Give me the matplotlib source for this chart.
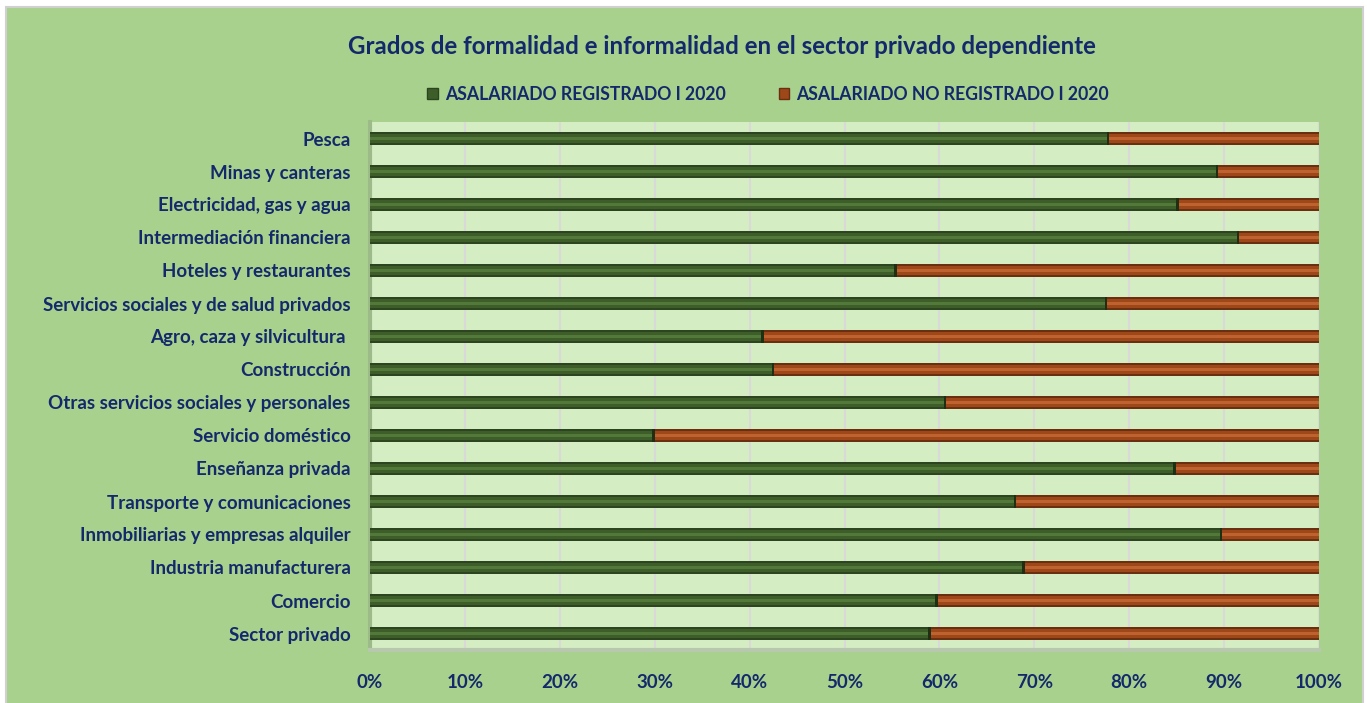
import matplotlib
matplotlib.use("Agg")
import matplotlib.pyplot as plt
from matplotlib.patches import Rectangle
from matplotlib.ticker import PercentFormatter

categories = [
    "Pesca",
    "Minas y canteras",
    "Electricidad, gas y agua",
    "Intermediación financiera",
    "Hoteles y restaurantes",
    "Servicios sociales y de salud privados",
    "Agro, caza y silvicultura ",
    "Construcción",
    "Otras servicios sociales y personales",
    "Servicio doméstico",
    "Enseñanza privada",
    "Transporte y comunicaciones",
    "Inmobiliarias y empresas alquiler",
    "Industria manufacturera",
    "Comercio",
    "Sector privado",
]
registrado = [77.9, 89.4, 85.2, 91.6, 55.5, 77.7, 41.5, 42.6, 60.7, 30.0,
              84.9, 68.1, 89.8, 69.0, 59.8, 59.1]
no_registrado = [100 - v for v in registrado]

series_names = ["ASALARIADO REGISTRADO I 2020", "ASALARIADO NO REGISTRADO I 2020"]
xticks = [0, 10, 20, 30, 40, 50, 60, 70, 80, 90, 100]

NAVY = "#13296B"
BG = "#A9D18E"
PLOT_BG = "#D5EDC3"
G_DARK, G_MID, G_LIGHT = "#2C4520", "#3D5E29", "#52783A"
O_DARK, O_MID, O_LIGHT = "#6A2E10", "#9E4719", "#BE632F"

plt.rcParams["font.family"] = ["Lato", "DejaVu Sans"]

fig = plt.figure(figsize=(13.67, 7.03), dpi=100, facecolor="white")
bgrect = Rectangle((6 / 1367, -0.01), (1363 - 6) / 1367, (703 - 7) / 703 + 0.01,
                   transform=fig.transFigure, facecolor=BG,
                   edgecolor="#D0D0D0", linewidth=1.5, zorder=-10)
fig.add_artist(bgrect)

ax = fig.add_axes([370 / 1367, (703 - 650) / 703, (1319 - 370) / 1367, (650 - 122) / 703])
ax.set_zorder(1)
ax.set_facecolor(PLOT_BG)

n = len(categories)
ypos = list(range(n))[::-1]

# bevel effect: stacked bars of decreasing heights
for h, cg, co in [(0.37, G_DARK, O_DARK), (0.27, G_MID, O_MID), (0.08, G_LIGHT, O_LIGHT)]:
    ax.barh(ypos, registrado, height=h, color=cg, zorder=3)
    ax.barh(ypos, no_registrado, left=registrado, height=h, color=co, zorder=3)
# dark separator at the boundary
ax.barh(ypos, [0.25] * n, left=[v - 0.25 for v in registrado], height=0.37,
        color="#1F2F14", zorder=4)

ax.set_xlim(0, 100)
ax.set_ylim(-0.5, n - 0.5)
ax.set_yticks(ypos)
ax.set_yticklabels(categories)
ax.set_xticks(xticks)
ax.xaxis.set_major_formatter(PercentFormatter(100, decimals=0))
ax.grid(axis="x", color="#D9D9D9", linewidth=1.5, zorder=1)
ax.set_axisbelow(True)
for s in ["top", "right"]:
    ax.spines[s].set_visible(False)
ax.spines["left"].set_color("#9DBB88")
ax.spines["left"].set_linewidth(3)
ax.spines["bottom"].set_color("#B8C8AE")
ax.spines["bottom"].set_linewidth(3)
ax.tick_params(axis="both", length=0, labelcolor=NAVY, labelsize=13.5)
ax.tick_params(axis="y", pad=14)
ax.tick_params(axis="x", pad=17)
for lbl in ax.get_xticklabels() + ax.get_yticklabels():
    lbl.set_fontweight("bold")

fig.text(0.5 * (345 + 1098) / 1367, 1 - 46 / 703,
         "Grados de formalidad e informalidad en el sector privado dependiente",
         ha="center", va="center", fontsize=17.4, fontweight="bold", color=NAVY)

handles = [Rectangle((0, 0), 1, 1, facecolor=G_MID, edgecolor=G_DARK),
           Rectangle((0, 0), 1, 1, facecolor=O_MID, edgecolor=O_DARK)]
fig.legend(handles, series_names, loc="center", bbox_to_anchor=(768 / 1367, 1 - 94 / 703),
           ncol=2, frameon=False, handlelength=0.6, handleheight=0.6, handletextpad=0.4,
           columnspacing=3.0, prop={"size": 12.7, "weight": "bold"}, labelcolor=NAVY)

fig.savefig("out.png", dpi=100, facecolor=fig.get_facecolor())
